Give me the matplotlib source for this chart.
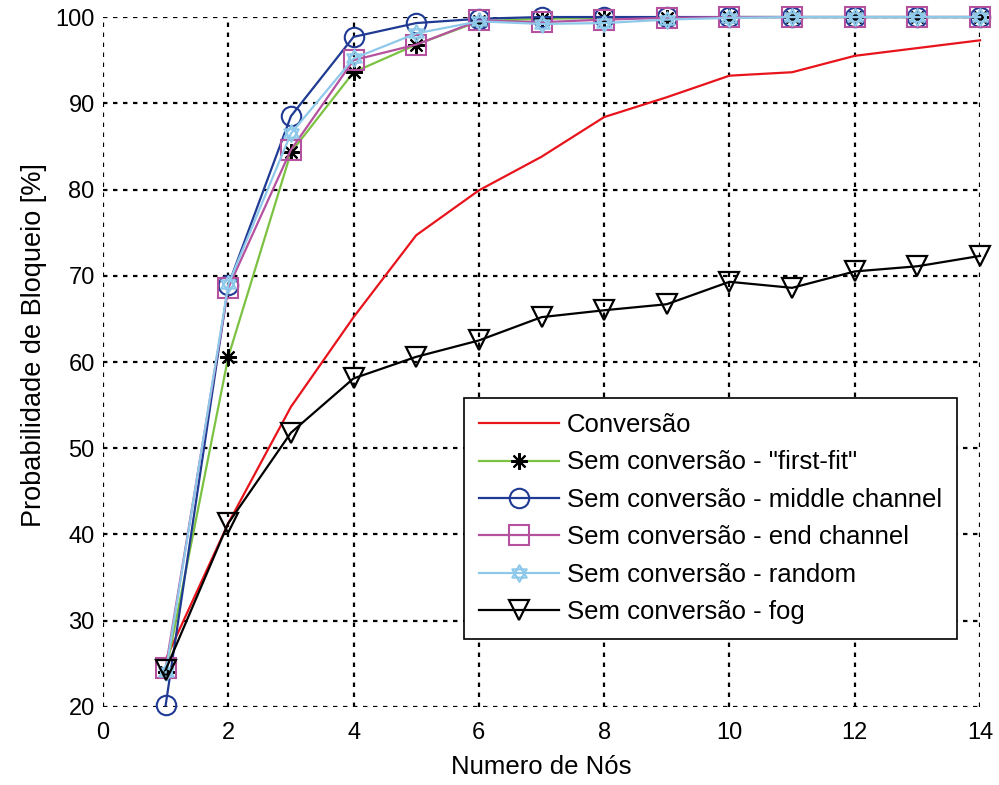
import numpy as np
import matplotlib.pyplot as plt
from matplotlib.path import Path

plt.rcParams['font.family'] = ['Liberation Sans', 'DejaVu Sans']

# --- Blocking probability vs. number of nodes ---
nodes = np.arange(1, 15)

conversao = [25.5, 41.3, 54.8, 65.2, 74.7, 79.9, 83.8, 88.4, 90.7, 93.2, 93.6, 95.5, 96.4, 97.3]
first_fit = [24.0, 60.6, 84.3, 93.6, 96.8, 99.5, 99.8, 99.9, 99.9, 100, 100, 100, 100, 100]
middle_channel = [20.2, 68.9, 88.5, 97.7, 99.3, 99.8, 100, 100, 100, 100, 100, 100, 100, 100]
end_channel = [24.5, 68.6, 84.6, 95.0, 96.8, 99.6, 99.4, 99.7, 99.9, 100, 100, 100, 100, 100]
random_ch = [24.0, 69.0, 86.5, 95.2, 98.1, 99.5, 99.2, 99.3, 99.7, 99.9, 100, 100, 100, 100]
fog = [24.3, 41.3, 51.8, 58.1, 60.6, 62.5, 65.2, 66.0, 66.7, 69.3, 68.6, 70.5, 71.1, 72.3]

labels = ['Conversão',
          'Sem conversão - "first-fit"',
          'Sem conversão - middle channel',
          'Sem conversão - end channel',
          'Sem conversão - random',
          'Sem conversão - fog']

# hexagram marker (two overlapping triangles)
ang_up = np.deg2rad([90, 210, 330, 90])
ang_dn = np.deg2rad([270, 30, 150, 270])
verts = list(zip(np.cos(ang_up), np.sin(ang_up))) + list(zip(np.cos(ang_dn), np.sin(ang_dn)))
codes = [Path.MOVETO, Path.LINETO, Path.LINETO, Path.CLOSEPOLY] * 2
hexagram = Path(verts, codes)

fig = plt.figure(figsize=(9.99, 7.85), dpi=100)
ax = fig.add_axes([0.1031, 0.0994, 0.8779, 0.8789])

lw = 1.6
common = dict(lw=lw, clip_on=False)
ax.plot(nodes, conversao, color='#e8141c', label=labels[0], **common)
ax.plot(nodes, first_fit, color='#7cc242', marker=(8, 2, 0), ms=12,
        mec='black', mew=1.5, label=labels[1], **common)
ax.plot(nodes, middle_channel, color='#1f3a93', marker='o', ms=14,
        mfc='none', mew=1.5, label=labels[2], **common)
ax.plot(nodes, end_channel, color='#b5529f', marker='s', ms=14,
        mfc='none', mew=1.5, label=labels[3], **common)
ax.plot(nodes, random_ch, color='#8fc9ea', marker=hexagram, ms=12,
        mfc='none', mew=1.5, label=labels[4], **common)
ax.plot(nodes, fog, color='black', marker='v', ms=15,
        mfc='none', mew=1.6, label=labels[5], **common)

ax.set_xlim(0, 14)
ax.set_ylim(20, 100)
ax.set_xticks(np.arange(0, 15, 2))
ax.set_yticks(np.arange(20, 101, 10))
ax.tick_params(length=0, labelsize=17)
ax.tick_params(axis='y', pad=6)
ax.tick_params(axis='x', pad=11)
for s in ax.spines.values():
    s.set_visible(False)
ax.grid(True, color='black', linestyle=(0, (2, 2.5)), linewidth=1.6)
ax.set_axisbelow(True)

ax.set_xlabel('Numero de Nós', fontsize=18.5, labelpad=8)
ax.set_ylabel('Probabilidade de Bloqueio [%]', fontsize=19.5, labelpad=6)
ax.yaxis.label.set_y(0.525)

leg = ax.legend(loc='lower right', bbox_to_anchor=(0.974, 0.098), fontsize=18.5,
                handlelength=3.1, frameon=True, fancybox=False, edgecolor='black',
                framealpha=1, labelspacing=0.52, borderpad=0.6, handletextpad=0.3,
                borderaxespad=0)
leg.get_frame().set_linewidth(1.2)

fig.savefig('out.png', dpi=100)
